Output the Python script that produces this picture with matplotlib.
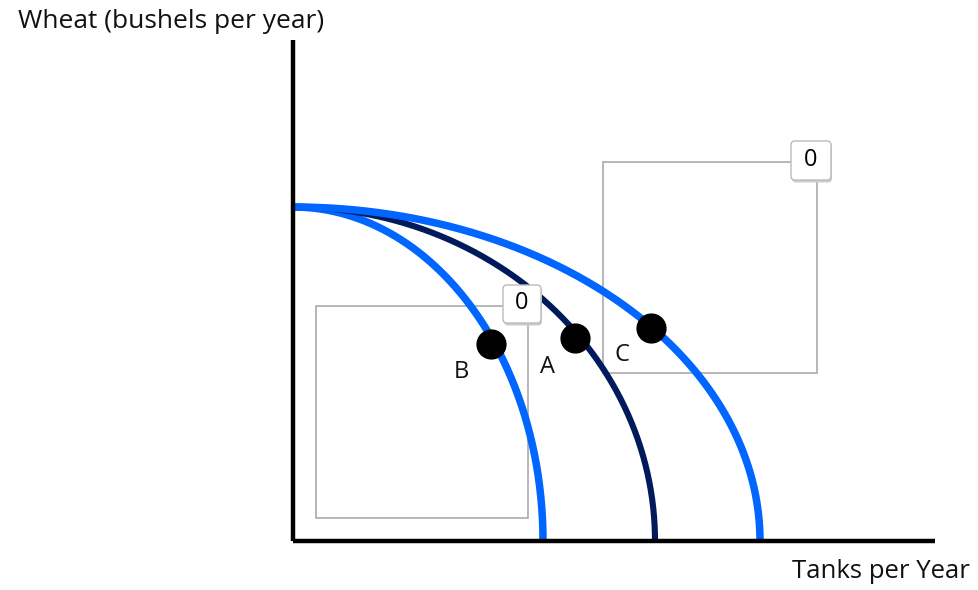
import numpy as np
import matplotlib
matplotlib.use("Agg")
import matplotlib.pyplot as plt
from matplotlib.patches import Rectangle, FancyBboxPatch

plt.rcParams['font.family'] = ['Open Sans', 'DejaVu Sans']

# Data (units: tanks, bushels)
curve_names = ["inner", "middle", "outer"]
tank_intercepts = [25.0, 36.2, 46.7]
wheat_intercept = 33.4
curve_colors = ["#0066FF", "#001A5C", "#0066FF"]
curve_widths = [5.4, 4.4, 5.4]

point_labels = ["B", "A", "C"]
point_x = [19.8, 28.2, 35.8]
point_y = [19.7, 20.3, 21.3]

box_value_labels = ["0", "0"]

x_label = "Tanks per Year"
y_label = "Wheat (bushels per year)"

fig = plt.figure(figsize=(9.79, 5.90), dpi=100)
ax = fig.add_axes([0, 0, 1, 1])
# 10 px per unit; origin at pixel (293, 541)
ax.set_xlim(-29.3, 68.6)
ax.set_ylim(-4.9, 54.1)
ax.axis('off')

def px(x, y):
    return ((x - 293) / 10.0, (541 - y) / 10.0)

# input boxes (drawn first, behind curves)
for (x0, y0, x1, y1), (lx0, ly0, lx1, ly1), lab in [
        ((316, 306, 528, 518), (503, 285, 541, 323), box_value_labels[0]),
        ((603, 162, 817, 373), (791, 141, 831, 180), box_value_labels[1])]:
    a = px(x0, y1); b = px(x1, y0)
    ax.add_patch(Rectangle(a, b[0] - a[0], b[1] - a[1], fill=False,
                           edgecolor="#AAAAAA", lw=1.2, zorder=1))
    la = px(lx0, ly1); lb = px(lx1, ly0)
    ax.add_patch(FancyBboxPatch((la[0] + 0.1, la[1] - 0.25), lb[0] - la[0], lb[1] - la[1],
                                boxstyle="round,pad=0,rounding_size=0.4",
                                facecolor="#CCCCCC", edgecolor="none", zorder=4))
    ax.add_patch(FancyBboxPatch(la, lb[0] - la[0], lb[1] - la[1],
                                boxstyle="round,pad=0,rounding_size=0.4",
                                facecolor="white", edgecolor="#BBBBBB", lw=1, zorder=5))
    ax.text((la[0] + lb[0]) / 2, (la[1] + lb[1]) / 2 + 0.05, lab, ha='center', va='center',
            fontsize=17, color="black", zorder=6)

# PPF curves
t = np.linspace(0, np.pi / 2, 300)
for a_int, col, w in zip(tank_intercepts, curve_colors, curve_widths):
    ax.plot(a_int * np.sin(t), wheat_intercept * np.cos(t), color=col, lw=w,
            solid_capstyle='butt', zorder=3)

# axes lines
ax.plot([0, 0], [0, 50.1], color="black", lw=3.2, solid_capstyle='butt', zorder=7)
ax.plot([0, 64.2], [0, 0], color="black", lw=3.2, solid_capstyle='butt', zorder=7)

# points
ax.scatter(point_x, point_y, s=430, color="black", zorder=8)
label_pos = [(461, 372), (547, 367), (622, 355)]
for lab, (lx, ly) in zip(point_labels, label_pos):
    p = px(lx, ly)
    ax.text(p[0], p[1], lab, ha='center', va='center', fontsize=17, color="#111111", zorder=9)

tp = px(18, 22)
ax.text(tp[0], tp[1], y_label, ha='left', va='center', fontsize=19, color="#111111")
xp = px(970, 572)
ax.text(xp[0], xp[1], x_label, ha='right', va='center', fontsize=18.5, color="#111111")

fig.savefig("out.png", dpi=100)
